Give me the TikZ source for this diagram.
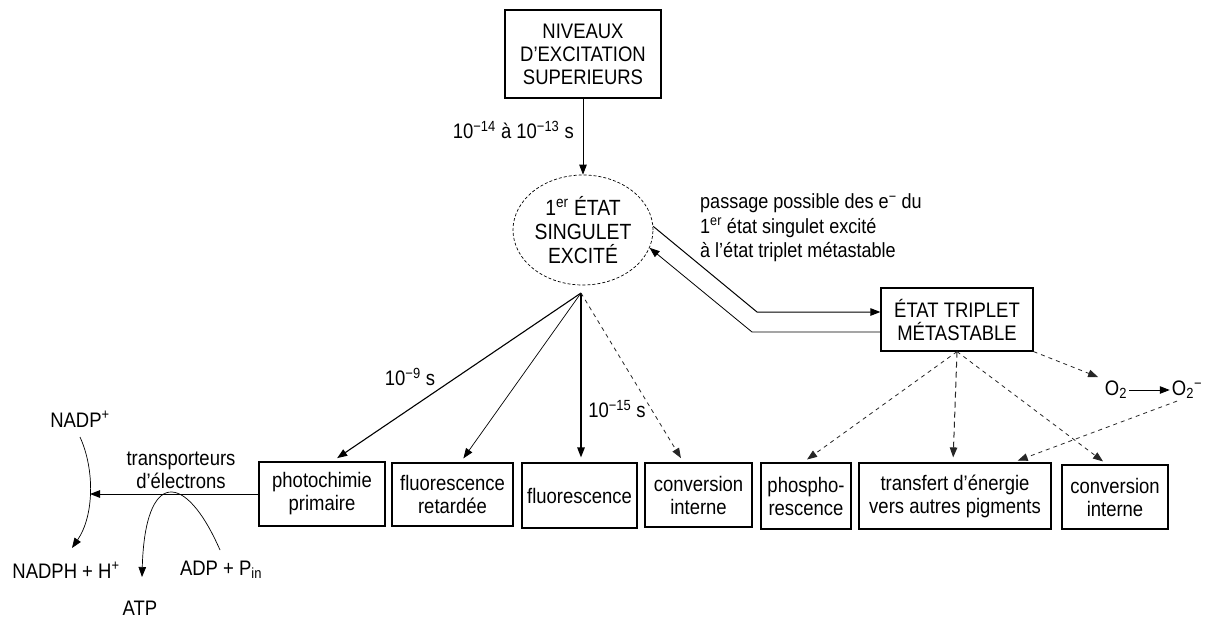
\documentclass[tikz,border=0pt]{standalone}
\usepackage{fontspec}
\setmainfont{Liberation Sans}[FakeStretch=0.88]
\usetikzlibrary{arrows.meta,shapes.geometric}
\begin{document}
\begin{tikzpicture}[x=1pt,y=-1pt,
  every node/.style={font=\fontsize{21}{23}\selectfont, inner sep=0pt},
  arr/.style={-{Triangle[length=10pt,width=7.5pt]}},
  dsh/.style={dash pattern=on 4pt off 4pt, line width=0.8pt, black!85},
  box/.style={draw, line width=1.2pt, align=center},
  lbl/.style={align=center}]
\useasboundingbox (0,0) rectangle (1209,619);

% main nodes
\node[box, minimum width=156pt, minimum height=88pt] (top) at (583,54) {NIVEAUX\\D'EXCITATION\\SUPERIEURS};
\node[draw, ellipse, dash pattern=on 3pt off 2pt, line width=0.7pt, align=center,
      minimum width=140pt, minimum height=110pt,
      font=\fontsize{22}{24}\selectfont] (ell) at (583,230) {1\textsuperscript{er} ÉTAT\\SINGULET\\EXCITÉ};
\coordinate (apex) at (581,293);

\node[box, line width=2.2pt, minimum width=126pt, minimum height=64pt] (photo) at (322,494) {photochimie\\primaire};
\node[box, minimum width=121pt, minimum height=63pt] (fretard) at (452.5,494.5) {fluorescence\\retardée};
\node[box, minimum width=115pt, minimum height=65pt] (fluo) at (579.5,495.5) {fluorescence};
\node[box, minimum width=107pt, minimum height=64pt] (conv1) at (698.5,495) {conversion\\interne};
\node[box, minimum width=90pt, minimum height=66pt] (phospho) at (806,496) {phospho-\\rescence};
\node[box, minimum width=192pt, minimum height=66pt] (transf) at (955,496) {transfert d'énergie\\vers autres pigments};
\node[box, minimum width=106pt, minimum height=64pt] (conv2) at (1115,497) {conversion\\interne};
\node[box, minimum width=152pt, minimum height=63pt] (triplet) at (957,319.5) {ÉTAT TRIPLET\\MÉTASTABLE};

\node[inner sep=2pt] (o2) at (1116,390) {O\textsubscript{2}};
\node[inner sep=2pt] (o2m) at (1187,390) {O\textsubscript{2}\textsuperscript{−}};

% labels
\node[anchor=east] (l1) at (574,130) {10\textsuperscript{−14} à 10\textsuperscript{−13} s};
\node (l9) at (410,377) {10\textsuperscript{−9} s};
\node (l15) at (617,409) {10\textsuperscript{−15} s};
\node[anchor=west, align=left, font=\fontsize{20.5}{24.5}\selectfont] (pass) at (700,228)
  {passage possible des e\textsuperscript{−} du\\1\textsuperscript{er} état singulet excité\\à l'état triplet métastable};

% left part
\node[lbl] (trtxt) at (181,470) {transporteurs\\d'électrons};
\node[anchor=base] (nadp) at (80,427) {NADP\textsuperscript{+}};
\node[anchor=base] (nadph) at (66,578) {NADPH + H\textsuperscript{+}};
\node[anchor=base] (adp) at (221,575) {ADP + P\textsubscript{in}};
\node[anchor=base] (atp) at (140,615) {ATP};
\coordinate (nj) at (90,494);

% connectors
\draw[arr, line width=0.9pt] (top) -- (ell);

\draw[arr, line width=1.1pt, shorten >=5pt] (apex) -- ([xshift=11pt]photo.north);
\draw[arr, line width=0.7pt, shorten >=5pt] (apex) -- ([xshift=8pt]fretard.north);
\draw[arr, line width=1.3pt, shorten >=5pt] (apex) -- ([xshift=1.5pt]fluo.north);
\draw[arr, dsh, shorten >=5pt] (apex) -- ([xshift=-15pt]conv1.north);

\coordinate (c1) at (757,312);
\coordinate (c2) at (752,332);
\draw[arr, line width=1pt] (ell.3) -- (c1) -- (c1 -| triplet.west);
\draw[arr, line width=0.8pt] (c2 -| triplet.west) -- (c2) -- (ell.-15);

\draw[arr, dsh, shorten >=5pt] (triplet.south) -- ([xshift=-3pt]phospho.north);
\draw[arr, dsh, dash pattern=on 6pt off 4pt, line width=1pt, shorten >=5pt] (triplet.south) -- ([xshift=-2pt]transf.north);
\draw[arr, dsh, shorten >=5pt] (triplet.south) -- ([xshift=-8pt]conv2.north);
\draw[arr, dsh, shorten >=5pt] (triplet.south east) -- (o2.north west);
\draw[arr, line width=1pt] (o2.east) -- (o2.east -| o2m.west);
\draw[arr, dsh, shorten >=5pt] ([xshift=-10pt]o2m.south) -- ([xshift=58pt]transf.north);

\draw[arr, line width=1pt] (photo.west) -- (nj);
\draw[arr, line width=0.7pt] ([yshift=-10pt]nadp.base) .. controls (95,470) and (94,516) .. ([xshift=6pt,yshift=30pt]nadph.base);
\draw[arr, line width=0.7pt] ([xshift=-1pt,yshift=25pt]adp.base) .. controls (185,470) and (145,470) .. ([xshift=2pt,yshift=38pt]atp.base);
\end{tikzpicture}
\end{document}
